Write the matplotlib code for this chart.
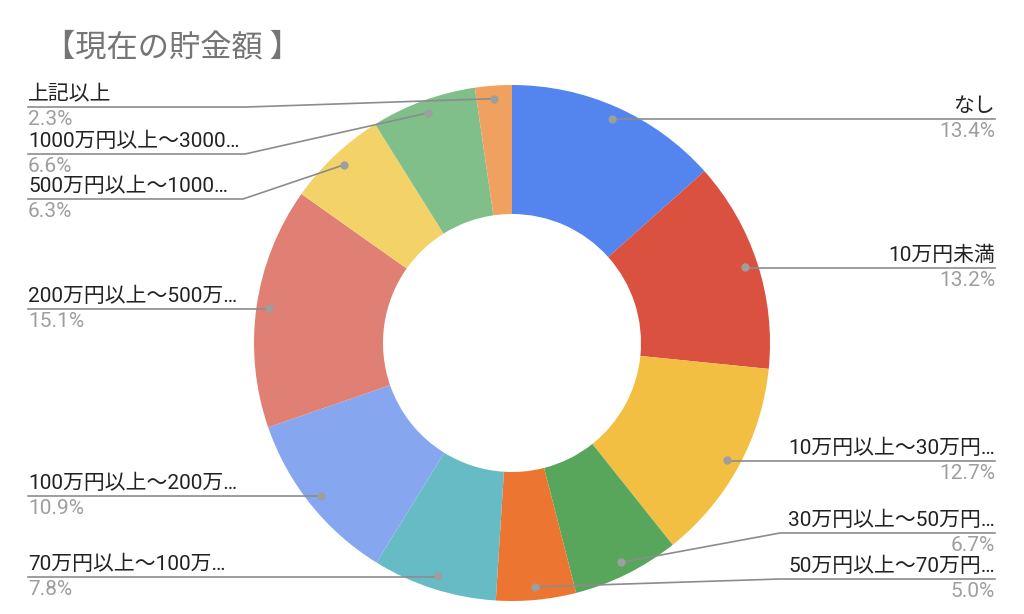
import numpy as np
import matplotlib
matplotlib.use("Agg")
import matplotlib.pyplot as plt

plt.rcParams['font.family'] = ['Roboto', 'Noto Sans CJK JP', 'DejaVu Sans']

# data
labels = ["なし", "10万円未満", "10万円以上～30万円…", "30万円以上～50万円…",
          "50万円以上～70万円…", "70万円以上～100万…", "100万円以上～200万…",
          "200万円以上～500万…", "500万円以上～1000…", "1000万円以上～3000…", "上記以上"]
values = [13.4, 13.2, 12.7, 6.7, 5.0, 7.8, 10.9, 15.1, 6.3, 6.6, 2.3]
colors = ["#5484ED", "#DA5140", "#F2BF42", "#58A65C", "#EC7631", "#67BBC4",
          "#86A7EF", "#E07F73", "#F3D368", "#80BF89", "#F0A160"]

# label layout in pixel coords: (side, underline y, elbow x or None)
layout = [("R", 119, None), ("R", 268, None), ("R", 461, None), ("R", 533, 780),
          ("R", 579, 780), ("L", 577, None), ("L", 496, None), ("L", 309, None),
          ("L", 199, 243), ("L", 154, 245), ("L", 107, 247)]

W, H = 1024, 614
cx, cy, R = 512, 343, 258

fig = plt.figure(figsize=(W / 100, H / 100), dpi=100)
ax = fig.add_axes([0, 0, 1, 1])

def Y(py):
    return H - py

wedges, _ = ax.pie(values, colors=colors, startangle=90, counterclock=False,
                   center=(cx, Y(cy)), radius=R, wedgeprops=dict(width=R * 0.5, linewidth=0),
                   frame=True)
ax.set_xlim(0, W)
ax.set_ylim(0, H)
ax.set_aspect("equal")
ax.axis("off")

ax.text(44, Y(47), "【現在の貯金額 】", fontsize=22.5, color="#757575", va="center", ha="left",
        family=['Noto Sans CJK JP'])

line_c = "#8c8c8c"
for w, lab, v, (side, uy, ex) in zip(wedges, labels, values, layout):
    ang = np.deg2rad((w.theta1 + w.theta2) / 2)
    dx = cx + 245 * np.cos(ang)
    dy = cy - 245 * np.sin(ang)
    ax.plot(dx, Y(dy), "o", ms=5, color="#9e9e9e", zorder=5)
    x0 = ex if ex is not None else dx
    if side == "R":
        xs = [dx, x0, 995]
        tx, ha = 995, "right"
    else:
        xs = [dx, x0, 28]
        tx, ha = 28, "left"
    ys = [dy, uy, uy]
    ax.plot(xs, [Y(y) for y in ys], color=line_c, lw=1.2, zorder=4)
    ax.text(tx, Y(uy - 3), lab, fontsize=15, color="#222222", ha=ha, va="bottom")
    ax.text(tx, Y(uy + 3), f"{v:.1f}%", fontsize=15, color="#9e9e9e", ha=ha, va="top")

fig.savefig("out.png", dpi=100)
